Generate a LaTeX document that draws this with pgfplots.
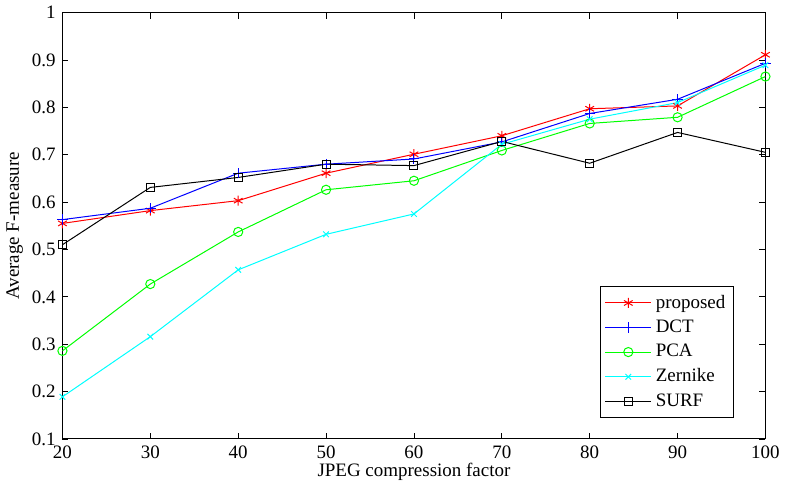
\documentclass[border=0pt]{standalone}
\usepackage{fontspec}
\setmainfont{Liberation Serif}
\usepackage{pgfplots}
\pgfplotsset{compat=1.18}
\definecolor{mcyan}{rgb}{0,1,1}
\definecolor{mgreen}{rgb}{0,1,0}
\begin{document}
\fontsize{9.5}{11}\selectfont
\begin{tikzpicture}
\begin{axis}[
    scale only axis,
    width=352pt, height=213.5pt,
    xmin=20, xmax=100, ymin=0.1, ymax=1,
    xtick={20,30,...,100},
    ytick={0.1,0.2,...,1.0},
    yticklabel style={/pgf/number format/fixed},
    /pgf/number format/assume math mode=true,
    tick align=inside,
    major tick length=3pt,
    tick style={black, line width=0.4pt},
    axis line style={line width=0.5pt},
    xlabel={JPEG compression factor},
    ylabel={Average F-measure},
    xlabel style={yshift=4pt},
    ylabel style={yshift=-2pt},
    ticklabel style={font=\fontsize{9.5}{11}\selectfont},
    label style={font=\fontsize{9.5}{11}\selectfont},
    legend style={at={(0.955,0.05)}, anchor=south east, draw=black, line width=0.5pt,
        font=\fontsize{9.5}{11}\selectfont, row sep=0.5pt, inner xsep=2pt, inner ysep=2pt},
    legend cell align=left,
    legend image code/.code={\draw[#1] (0pt,0pt) -- (23pt,0pt); \draw[#1, only marks] plot coordinates {(11.5pt,0pt)};},
    every axis plot/.append style={line width=0.5pt},
]
\addplot[red, mark=asterisk, mark size=2.5pt] coordinates {
(20,0.555) (30,0.582) (40,0.603) (50,0.661) (60,0.701) (70,0.740) (80,0.797) (90,0.803) (100,0.911)};
\addlegendentry{proposed}
\addplot[blue, mark=+, mark size=2.6pt] coordinates {
(20,0.563) (30,0.587) (40,0.661) (50,0.680) (60,0.691) (70,0.727) (80,0.787) (90,0.817) (100,0.893)};
\addlegendentry{DCT}
\addplot[mgreen, mark=o, mark size=2.3pt] coordinates {
(20,0.286) (30,0.427) (40,0.537) (50,0.626) (60,0.645) (70,0.709) (80,0.766) (90,0.779) (100,0.865)};
\addlegendentry{PCA}
\addplot[mcyan, mark=x, mark size=2pt] coordinates {
(20,0.189) (30,0.316) (40,0.457) (50,0.532) (60,0.575) (70,0.722) (80,0.775) (90,0.810) (100,0.889)};
\addlegendentry{Zernike}
\addplot[black, mark=square, mark size=2pt] coordinates {
(20,0.510) (30,0.631) (40,0.652) (50,0.680) (60,0.677) (70,0.728) (80,0.682) (90,0.747) (100,0.705)};
\addlegendentry{SURF}
\end{axis}
\end{tikzpicture}
\end{document}
